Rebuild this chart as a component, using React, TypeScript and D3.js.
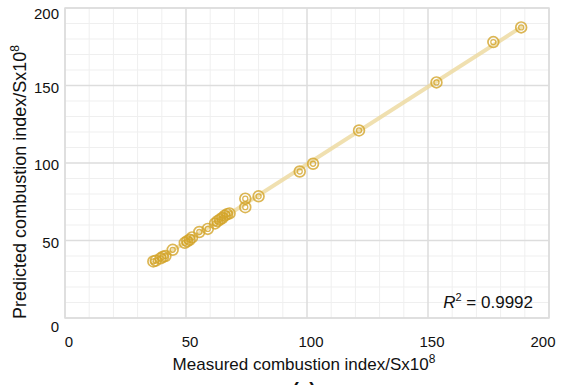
import { useEffect, useRef } from "react";
import * as d3 from "d3";

// Measured vs predicted combustion index (x10^8)
const measured = [
  36.5, 37.5, 39.5, 40.5, 41.5, 44.5, 49.5, 50.5, 51.5, 52.5, 55.5, 59, 62, 63,
  64, 65, 66, 67, 68, 74.5, 74.5, 80, 97, 102.5, 121.5, 153.5, 177, 188.5,
];
const predicted = [
  36.5, 37, 38.5, 39.5, 40, 44, 48.5, 49.5, 50.5, 52, 55.5, 57.5, 61, 62.5,
  63.5, 64.5, 66, 67, 67.5, 77, 71.5, 78.5, 94.5, 99.5, 121, 152, 178, 187.5,
];
const xTicks = [0, 50, 100, 150, 200];
const yTicks = [0, 50, 100, 150, 200];
const r2Label = "0.9992";

const WIDTH = 563;
const HEIGHT = 385;
const margin = { top: 8, right: 14, bottom: 67, left: 65 };
const FONT = "Liberation Sans, Arial, Helvetica, sans-serif";
const POINT_COLOR = "#d4a52a";

export default function App() {
  const svgRef = useRef<SVGSVGElement>(null);

  useEffect(() => {
    if (!svgRef.current) return;
    const svg = d3.select(svgRef.current);
    svg.selectAll("*").remove();

    const innerW = WIDTH - margin.left - margin.right;
    const innerH = HEIGHT - margin.top - margin.bottom;

    const x = d3.scaleLinear().domain([0, 200]).range([0, innerW]);
    const y = d3.scaleLinear().domain([0, 200]).range([innerH, 0]);

    const g = svg
      .append("g")
      .attr("transform", `translate(${margin.left},${margin.top})`);

    // minor grid every 10
    const minor = d3.range(0, 201, 10).filter((v) => v % 50 !== 0);
    g.selectAll(".vminor")
      .data(minor)
      .join("line")
      .attr("x1", (d) => x(d))
      .attr("x2", (d) => x(d))
      .attr("y1", 0)
      .attr("y2", innerH)
      .attr("stroke", "#efefef")
      .attr("stroke-width", 1);
    g.selectAll(".hminor")
      .data(minor)
      .join("line")
      .attr("y1", (d) => y(d))
      .attr("y2", (d) => y(d))
      .attr("x1", 0)
      .attr("x2", innerW)
      .attr("stroke", "#efefef")
      .attr("stroke-width", 1);

    // major grid
    g.selectAll(".vmajor")
      .data(xTicks)
      .join("line")
      .attr("x1", (d) => x(d))
      .attr("x2", (d) => x(d))
      .attr("y1", 0)
      .attr("y2", innerH)
      .attr("stroke", "#dddddd")
      .attr("stroke-width", 1.5);
    g.selectAll(".hmajor")
      .data(yTicks)
      .join("line")
      .attr("y1", (d) => y(d))
      .attr("y2", (d) => y(d))
      .attr("x1", 0)
      .attr("x2", innerW)
      .attr("stroke", "#dddddd")
      .attr("stroke-width", 1.5);

    // linear fit
    const pairs = measured.map((m, i) => [m, predicted[i]] as [number, number]);
    const mx = d3.mean(measured)!;
    const my = d3.mean(predicted)!;
    const slope =
      d3.sum(pairs, ([a, b]) => (a - mx) * (b - my)) /
      d3.sum(pairs, ([a]) => (a - mx) ** 2);
    const intercept = my - slope * mx;
    const [x0, x1] = d3.extent(measured) as [number, number];
    const line = d3
      .line<number>()
      .x((d) => x(d))
      .y((d) => y(slope * d + intercept));
    g.append("path")
      .datum([x0, x1])
      .attr("d", line)
      .attr("stroke", "#ecd89c")
      .attr("stroke-opacity", 0.8)
      .attr("stroke-width", 4)
      .attr("stroke-linecap", "round")
      .attr("fill", "none");

    // points: double rings
    const pts = g
      .selectAll(".pt")
      .data(pairs)
      .join("g")
      .attr("transform", ([a, b]) => `translate(${x(a)},${y(b)})`)
      .attr("opacity", 0.8);
    pts
      .append("circle")
      .attr("r", 5.4)
      .attr("fill", "none")
      .attr("stroke", POINT_COLOR)
      .attr("stroke-width", 1.7);
    pts
      .append("circle")
      .attr("r", 2.5)
      .attr("fill", "none")
      .attr("stroke", POINT_COLOR)
      .attr("stroke-width", 1.3);

    // frame
    g.append("rect")
      .attr("width", innerW)
      .attr("height", innerH)
      .attr("fill", "none")
      .attr("stroke", "#dddddd")
      .attr("stroke-width", 1.5);

    // tick labels
    g.selectAll(".xl")
      .data(xTicks)
      .join("text")
      .attr("x", (d) => Math.min(x(d) + 4, innerW - 6))
      .attr("y", innerH + 29)
      .attr("text-anchor", "middle")
      .attr("font-family", FONT)
      .attr("font-size", 15)
      .attr("fill", "#111")
      .text((d) => d);
    g.selectAll(".yl")
      .data(yTicks)
      .join("text")
      .attr("x", -6)
      .attr("y", (d) => y(d) + (d === 0 ? 9 : d === 200 ? 6 : 2))
      .attr("dy", "0.35em")
      .attr("text-anchor", "end")
      .attr("font-family", FONT)
      .attr("font-size", 15)
      .attr("fill", "#111")
      .text((d) => d);

    // axis titles
    const xt = svg
      .append("text")
      .attr("x", 304)
      .attr("y", 370)
      .attr("text-anchor", "middle")
      .attr("font-family", FONT)
      .attr("font-size", 17)
      .attr("fill", "#111");
    xt.append("tspan").text("Measured combustion index/Sx10");
    xt.append("tspan").attr("dy", -7).attr("font-size", 12).text("8");

    const yt = svg
      .append("text")
      .attr("transform", `translate(26,182) rotate(-90)`)
      .attr("text-anchor", "middle")
      .attr("font-family", FONT)
      .attr("font-size", 18)
      .attr("fill", "#111");
    yt.append("tspan").text("Predicted combustion index/Sx10");
    yt.append("tspan").attr("dy", -7).attr("font-size", 12).text("8");

    // R^2 annotation
    const rt = g
      .append("text")
      .attr("x", innerW - 16)
      .attr("y", innerH - 10)
      .attr("text-anchor", "end")
      .attr("font-family", FONT)
      .attr("font-size", 17)
      .attr("fill", "#111");
    rt.append("tspan").attr("font-style", "italic").text("R");
    rt.append("tspan").attr("dy", -7).attr("font-size", 11).text("2");
    rt.append("tspan").attr("dy", 7).text(` = ${r2Label}`);

    // panel label (cut off at bottom, as in the source figure)
    svg
      .append("text")
      .attr("x", 304)
      .attr("y", 395)
      .attr("text-anchor", "middle")
      .attr("font-family", FONT)
      .attr("font-size", 19)
      .attr("font-weight", "bold")
      .attr("fill", "#111")
      .text("(a)");
  }, []);

  return (
    <svg
      ref={svgRef}
      width={WIDTH}
      height={HEIGHT}
      style={{ position: "absolute", left: 0, top: 0, background: "#fff" }}
    />
  );
}
